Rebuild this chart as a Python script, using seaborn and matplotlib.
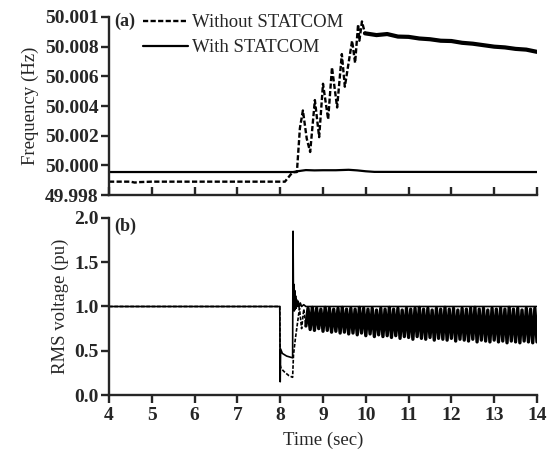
import numpy as np
import matplotlib
matplotlib.use("Agg")
import matplotlib.pyplot as plt
import seaborn as sns

# ---- (a) frequency, Hz ----
freq_wo_t = [4.0, 4.5, 4.6, 4.7, 5.0, 7.0, 8.11, 8.25, 8.30, 8.39, 8.46, 8.53,
             8.62, 8.70, 8.81, 8.91, 9.00, 9.12, 9.21, 9.33, 9.44, 9.51, 9.68,
             9.75, 9.82, 9.85, 9.91, 9.98]
freq_wo_v = [49.99890, 49.99890, 49.99884, 49.99887, 49.99890, 49.99890, 49.99890,
             49.99940, 49.99953, 49.99955, 50.00250, 50.00370, 50.00180, 50.00090,
             50.00440, 50.00190, 50.00550, 50.00310, 50.00660, 50.00390, 50.00750,
             50.00530, 50.00840, 50.00690, 50.00950, 50.00840, 50.00970, 50.00890]
# noisy tail after 10 s
freq_tail_t = [9.98, 10.25, 10.5, 10.75, 11.0, 11.25, 11.5, 11.75, 12.0, 12.25,
               12.5, 12.75, 13.0, 13.25, 13.5, 13.75, 14.0]
freq_tail_v = [50.00890, 50.00878, 50.00885, 50.00868, 50.00866, 50.00855, 50.00850,
               50.00840, 50.00838, 50.00826, 50.00820, 50.00810, 50.00800, 50.00795,
               50.00785, 50.00780, 50.00765]
freq_w_t = [4.0, 8.30, 8.45, 8.60, 8.80, 9.00, 9.30, 9.60, 9.80, 10.0, 10.2, 14.0]
freq_w_v = [49.99955, 49.99955, 49.99962, 49.99968, 49.99966, 49.99967, 49.99967,
            49.99970, 49.99966, 49.99960, 49.99956, 49.99955]
freq_ticks = [49.998, 50.000, 50.002, 50.004, 50.006, 50.008, 50.010]
freq_ticklabels = ["49.998", "50.000", "50.002", "50.004", "50.006", "50.008", "50.001"]

# ---- (b) RMS voltage, pu ----
volt_w_t = [4.0, 7.99, 8.0, 8.01, 8.05, 8.15, 8.29, 8.30, 8.31, 8.32, 8.33, 8.34,
            8.35, 8.36, 8.37, 8.38, 8.40, 8.42, 8.44, 8.47, 8.50, 8.55, 8.60, 14.0]
volt_w_v = [1.0, 1.0, 0.15, 0.52, 0.47, 0.44, 0.42, 1.85, 1.05, 1.25, 0.95, 1.18,
            0.97, 1.12, 0.98, 1.08, 1.00, 1.06, 0.99, 1.04, 1.00, 1.02, 1.00, 1.0]
volt_wo_t = [4.0, 7.99, 8.0, 8.02, 8.10, 8.20, 8.29, 8.31, 8.35, 8.40, 8.45, 8.50, 8.55, 8.60]
volt_wo_v = [1.0, 1.0, 0.34, 0.30, 0.26, 0.22, 0.20, 0.45, 0.62, 0.80, 0.98, 0.75, 0.97, 0.78]
# oscillation 8.6 .. 14 s, sampled every 0.05 s (trough, peak, trough, ...)
osc_t = np.round(np.arange(8.60, 14.001, 0.05), 2)
osc_troughs = [0.78, 0.74, 0.73, 0.75, 0.72, 0.73, 0.71, 0.72, 0.70, 0.71,
               0.69, 0.70, 0.68, 0.70, 0.67, 0.69, 0.66, 0.68, 0.66, 0.67,
               0.65, 0.67, 0.64, 0.66, 0.65, 0.63, 0.66, 0.64, 0.63, 0.65,
               0.62, 0.64, 0.63, 0.62, 0.64, 0.61, 0.63, 0.62, 0.61, 0.63,
               0.60, 0.62, 0.61, 0.60, 0.62, 0.60, 0.61, 0.59, 0.61, 0.60,
               0.59, 0.61, 0.60, 0.59, 0.60]
osc_peaks = [0.98, 0.99, 0.98, 0.97, 0.99, 0.98, 0.97, 0.98, 0.99, 0.97,
             0.98, 0.97, 0.99, 0.98, 0.97, 0.98, 0.96, 0.98, 0.97, 0.99,
             0.97, 0.98, 0.96, 0.98, 0.97, 0.98, 0.99, 0.97, 0.98, 0.96,
             0.98, 0.97, 0.99, 0.97, 0.98, 0.96, 0.98, 0.97, 0.98, 0.99,
             0.97, 0.98, 0.96, 0.98, 0.97, 0.98, 0.97, 0.99, 0.97, 0.98,
             0.96, 0.98, 0.97, 0.98]
osc_v = np.empty(len(osc_t))
osc_v[0::2] = osc_troughs
osc_v[1::2] = osc_peaks

sns.set_style("ticks")
plt.rcParams['font.family'] = ['Liberation Serif', 'DejaVu Serif']

fig = plt.figure(figsize=(5.47, 4.53), dpi=100)
ax1 = fig.add_axes([0.1993, 0.5695, 0.7824, 0.393])
ax2 = fig.add_axes([0.1993, 0.128, 0.7824, 0.3908])

dash = (0, (2.2, 1.0))

sns.lineplot(x=freq_wo_t, y=freq_wo_v, ax=ax1, color="black", lw=1.7,
             linestyle=dash, estimator=None, sort=False, label="Without STATCOM")
sns.lineplot(x=freq_tail_t, y=freq_tail_v, ax=ax1, color="black", lw=3.0,
             estimator=None, sort=False)
sns.lineplot(x=freq_w_t, y=freq_w_v, ax=ax1, color="black", lw=1.6,
             estimator=None, sort=False, label="With STATCOM")

sns.lineplot(x=volt_wo_t, y=volt_wo_v, ax=ax2, color="black", lw=1.2,
             linestyle=dash, estimator=None, sort=False)
sns.lineplot(x=osc_t, y=osc_v, ax=ax2, color="black", lw=2.4,
             estimator=None, sort=False)
sns.lineplot(x=volt_w_t, y=volt_w_v, ax=ax2, color="black", lw=1.2,
             estimator=None, sort=False)

for ax in (ax1, ax2):
    ax.set_xlim(4, 14)
    ax.set_xticks(range(4, 15))
    sns.despine(ax=ax)
    for sp in ("left", "bottom"):
        ax.spines[sp].set_linewidth(1.7)
    ax.tick_params(width=1.7, length=5.5, labelsize=14, pad=2)

ax1.set_ylim(49.998, 50.010)
ax1.set_yticks(freq_ticks)
ax1.set_yticklabels(freq_ticklabels)
ax1.tick_params(axis="x", direction="in", labelbottom=False)
ax1.set_ylabel("Frequency (Hz)", fontsize=13.5, labelpad=4)
ax1.set_xlabel("")

ax2.set_ylim(0, 2.0)
ax2.set_yticks([0.0, 0.5, 1.0, 1.5, 2.0])
ax2.set_yticklabels(["0.0", "0.5", "1.0", "1.5", "2.0"])
ax2.tick_params(axis="x", pad=3)
ax2.set_xlabel("Time (sec)", fontsize=13.5, labelpad=6)
ax2.set_ylabel("RMS voltage (pu)", fontsize=13.5, labelpad=4)

for ax in (ax1, ax2):
    for lab in ax.get_xticklabels() + ax.get_yticklabels():
        lab.set_fontweight("bold")

ax1.text(0.012, 0.975, "(a)", transform=ax1.transAxes, fontsize=13,
         fontweight="bold", va="center", ha="left")
ax2.text(0.012, 0.95, "(b)", transform=ax2.transAxes, fontsize=13,
         fontweight="bold", va="center", ha="left")

ax1.legend(loc="upper left", bbox_to_anchor=(0.063, 1.057), frameon=False,
           fontsize=13.5, handlelength=2.4, handletextpad=0.2, labelspacing=0.4,
           borderaxespad=0)

fig.savefig("out.png", dpi=100)
